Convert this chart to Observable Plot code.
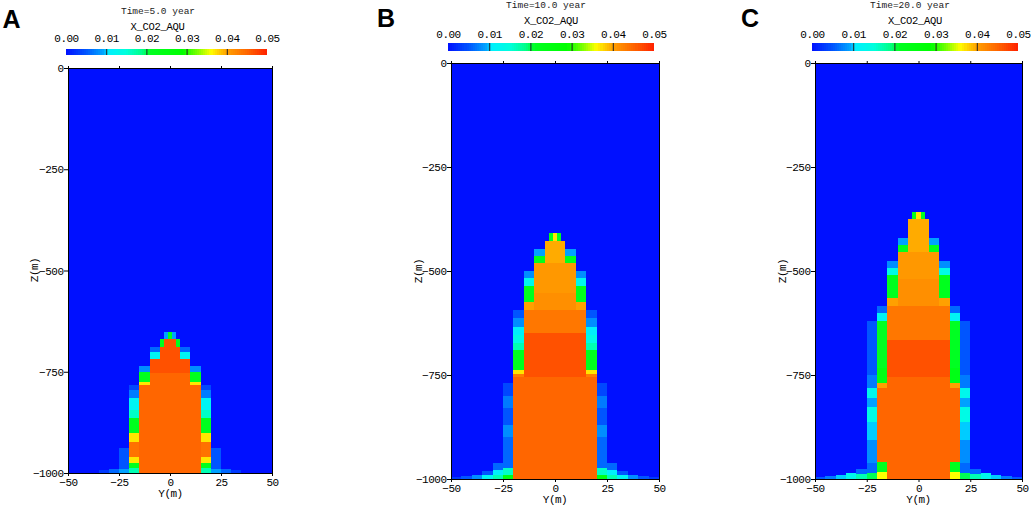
<!DOCTYPE html>
<html><head><meta charset="utf-8">
<script src="https://cdn.jsdelivr.net/npm/d3@7"></script>
<script src="https://cdn.jsdelivr.net/npm/@observablehq/plot@0.6"></script>
<style>
body{margin:0;background:#fff;}
#root{position:relative;width:1031px;height:506px;overflow:hidden;background:#fff;}
.lbl{position:absolute;transform:translate(-50%,-50%);line-height:1;white-space:nowrap;color:#000;font-family:"Liberation Mono",monospace;}
svg{position:absolute;}
</style></head><body><div id="root"></div>
<script>
// ---------- data ----------
const panelLetters = ["A", "B", "C"];
const timeLabels = ["Time=5.0 year", "Time=10.0 year", "Time=20.0 year"];
const varName = "X_CO2_AQU";
const xTicks = [-50, -25, 0, 25, 50];
const yTicks = [0, -250, -500, -750, -1000];
const barTicks = [0, 0.01, 0.02, 0.03, 0.04, 0.05];
const colorStops = [0, 0.005, 0.0095, 0.0105, 0.015, 0.019, 0.021, 0.029, 0.033, 0.036, 0.038, 0.04, 0.045, 0.05];
const colorHex = ["#0010ff", "#0055ff", "#00aaff", "#00eeff", "#00ffdd", "#00ff88", "#00ff22", "#00ff00", "#88ff00", "#ffff00", "#ffcc00", "#ffa000", "#ff6600", "#ff2000"];

// cells of the right half: [Y inner, Y outer, Z top, Z bottom, X_CO2_AQU] (mirrored about Y=0)
const cellsA = [
  [0, 15, -753, -1000, 0.045],
  [0, 10, -690, -753, 0.0465],
  [0, 3, -670, -690, 0.0465],
  [3, 5, -670, -690, 0.022],
  [0, 1, -651, -670, 0.022],
  [1, 3, -651, -670, 0.009],
  [5, 10, -690, -700, 0.006],
  [5, 10, -700, -719, 0.012],
  [10, 15, -737, -750, 0.008],
  [10, 15, -750, -775, 0.022],
  [10, 15, -775, -783, 0.037],
  [15, 20, -783, -795, 0.004],
  [15, 20, -795, -815, 0.007],
  [15, 20, -815, -845, 0.012],
  [15, 20, -845, -864, 0.016],
  [15, 20, -864, -901, 0.022],
  [15, 20, -901, -923, 0.037],
  [15, 20, -923, -960, 0.044],
  [15, 20, -960, -975, 0.037],
  [15, 20, -975, -988, 0.022],
  [15, 20, -988, -1000, 0.017],
  [20, 25, -938, -990, 0.005],
  [20, 25, -990, -1000, 0.009],
  [25, 30, -990, -1000, 0.006],
  [30, 35, -993, -1000, 0.003]
];
const cellsB = [
  [0, 20, -754, -1000, 0.045],
  [0, 15, -594, -649, 0.0435],
  [0, 15, -649, -754, 0.0465],
  [0, 10, -481, -553, 0.0407],
  [0, 10, -553, -594, 0.0415],
  [10, 15, -574, -594, 0.040],
  [0, 5, -427, -481, 0.0395],
  [0, 1, -409, -427, 0.037],
  [1, 3, -409, -427, 0.022],
  [5, 10, -448, -464, 0.009],
  [5, 10, -464, -481, 0.022],
  [10, 15, -501, -517, 0.008],
  [10, 15, -517, -537, 0.013],
  [10, 15, -537, -574, 0.022],
  [15, 20, -594, -614, 0.005],
  [15, 20, -614, -634, 0.008],
  [15, 20, -634, -654, 0.011],
  [15, 20, -654, -674, 0.014],
  [15, 20, -674, -690, 0.017],
  [15, 20, -690, -738, 0.022],
  [15, 20, -738, -747, 0.037],
  [15, 20, -747, -754, 0.043],
  [20, 25, -770, -800, 0.004],
  [20, 25, -800, -830, 0.007],
  [20, 25, -830, -870, 0.005],
  [20, 25, -870, -900, 0.008],
  [20, 25, -900, -974, 0.006],
  [20, 25, -974, -990, 0.016],
  [20, 25, -990, -1000, 0.024],
  [25, 30, -962, -978, 0.006],
  [25, 30, -978, -990, 0.011],
  [25, 30, -990, -1000, 0.017],
  [30, 35, -980, -990, 0.005],
  [30, 35, -990, -1000, 0.012],
  [35, 40, -990, -1000, 0.008],
  [40, 45, -992, -1000, 0.005],
  [45, 50, -994, -1000, 0.003]
];
const cellsC = [
  [0, 20, -781, -1000, 0.045],
  [0, 15, -585, -666, 0.0435],
  [0, 15, -666, -754, 0.0465],
  [0, 15, -754, -781, 0.045],
  [0, 10, -455, -520, 0.0407],
  [0, 10, -520, -585, 0.0415],
  [10, 15, -565, -585, 0.040],
  [0, 5, -375, -455, 0.0395],
  [0, 1, -358, -375, 0.037],
  [1, 3, -358, -375, 0.022],
  [5, 10, -420, -437, 0.009],
  [5, 10, -437, -455, 0.022],
  [10, 15, -475, -492, 0.008],
  [10, 15, -492, -510, 0.014],
  [10, 15, -510, -565, 0.022],
  [15, 20, -585, -600, 0.006],
  [15, 20, -600, -620, 0.012],
  [15, 20, -620, -734, 0.021],
  [15, 20, -734, -770, 0.024],
  [15, 20, -770, -781, 0.040],
  [15, 20, -958, -982, 0.022],
  [15, 20, -982, -1000, 0.036],
  [20, 25, -620, -750, 0.005],
  [20, 25, -750, -781, 0.007],
  [20, 25, -781, -806, 0.013],
  [20, 25, -806, -826, 0.009],
  [20, 25, -826, -862, 0.014],
  [20, 25, -862, -906, 0.010],
  [20, 25, -906, -962, 0.008],
  [20, 25, -962, -985, 0.006],
  [20, 25, -985, -1000, 0.020],
  [25, 30, -975, -988, 0.006],
  [25, 30, -988, -1000, 0.017],
  [30, 35, -985, -1000, 0.013],
  [35, 40, -990, -1000, 0.010],
  [40, 45, -992, -1000, 0.007],
  [45, 50, -994, -1000, 0.005]
];
const panelCells = [cellsA, cellsB, cellsC];

// ---------- layout (pixels) ----------
const layout = [
  {plot: [68, 272, 68, 473], bar: [66, 267, 49, 55], labY: 38, letter: [11.5, 19], title: [158, 11.5], vname: [157.5, 26.5], zlab: [35, 270], ylab: [170.5, 494]},
  {plot: [451, 659, 63, 479], bar: [448, 654, 43, 51], labY: 33.5, letter: [386, 18], title: [546, 6], vname: [551, 21], zlab: [419, 271], ylab: [555, 500]},
  {plot: [815, 1022, 63, 479], bar: [812, 1018, 43, 51], labY: 33.5, letter: [750, 18], title: [910, 6], vname: [915, 21], zlab: [783, 271], ylab: [918.5, 500]}
];

const root = document.getElementById("root");
const colorOpts = {type: "linear", domain: colorStops, range: colorHex, interpolate: "rgb", clamp: true};
const baseStyle = {fontFamily: "'Liberation Mono', monospace", fontSize: "11px", letterSpacing: "-0.5px", color: "#000", background: "transparent", overflow: "visible"};
const numFmt = d => (d < 0 ? "\u2212" + Math.abs(d) : String(d));

function mirror(cells) {
  const out = [];
  for (const [a, b, zt, zb, v] of cells) {
    if (a === 0) out.push({x1: -b, x2: b, y1: zb, y2: zt, v});
    else {
      out.push({x1: a, x2: b, y1: zb, y2: zt, v});
      out.push({x1: -b, x2: -a, y1: zb, y2: zt, v});
    }
  }
  return out;
}
function label(text, cx, cy, css) {
  const d = document.createElement("div");
  d.className = "lbl";
  d.textContent = text;
  d.style.left = cx + "px";
  d.style.top = cy + "px";
  Object.assign(d.style, css || {});
  root.appendChild(d);
  return d;
}

const barData = d3.range(0, 100).map(i => ({x1: i * 0.0005, x2: (i + 1) * 0.0005, v: (i + 0.5) * 0.0005}));

layout.forEach((L, k) => {
  // main heatmap
  const [px0, px1, py0, py1] = L.plot;
  const sx = px0 - 70, sw = Math.min(1031, px1 + 14) - sx;
  const main = Plot.plot({
    width: sw, height: 506,
    marginLeft: px0 - sx, marginRight: sx + sw - px1, marginTop: py0, marginBottom: 506 - py1,
    x: {domain: [-50, 50]},
    y: {domain: [-1000, 0]},
    color: colorOpts,
    style: baseStyle,
    marks: [
      Plot.rect([{x1: -50, x2: 50, y1: -1000, y2: 0, v: 0}], {x1: "x1", x2: "x2", y1: "y1", y2: "y2", fill: "v", shapeRendering: "crispEdges"}),
      Plot.rect(mirror(panelCells[k]), {x1: "x1", x2: "x2", y1: "y1", y2: "y2", fill: "v", shapeRendering: "crispEdges"}),
      Plot.frame({stroke: "#000"}),
      Plot.axisX({anchor: "bottom", ticks: xTicks, tickSize: 3, tickPadding: 2, tickFormat: numFmt, label: null}),
      Plot.axisX({anchor: "top", ticks: xTicks, tickSize: 3, tickFormat: () => "", label: null}),
      Plot.axisY({anchor: "left", ticks: yTicks, tickSize: 4, tickPadding: 1, tickFormat: numFmt, label: null})
    ]
  });
  main.style.left = sx + "px";
  main.style.top = "0px";
  root.appendChild(main);

  // colour bar
  const [bx0, bx1, by0, by1] = L.bar;
  const bl = bx0 - 30, bw = Math.min(1031, bx1 + 14) - bl;
  const mt = 24;
  const bar = Plot.plot({
    width: bw, height: mt + (by1 - by0),
    marginLeft: bx0 - bl, marginRight: bl + bw - bx1, marginTop: mt, marginBottom: 0,
    x: {domain: [0, 0.05]},
    y: {domain: [0, 1], axis: null},
    color: colorOpts,
    style: baseStyle,
    marks: [
      Plot.rect(barData, {x1: "x1", x2: "x2", y1: 0, y2: 1, fill: "v", shapeRendering: "crispEdges"}),
      Plot.ruleX(barTicks.slice(1, -1), {y1: 0, y2: 1, stroke: "#222", strokeWidth: 1}),
      Plot.axisX({anchor: "top", ticks: barTicks, tickSize: 0, tickPadding: (by0 - L.labY) - 3.8, tickFormat: d => d.toFixed(2), label: null})
    ]
  });
  bar.style.left = bl + "px";
  bar.style.top = (by0 - mt) + "px";
  root.appendChild(bar);

  // texts
  label(panelLetters[k], L.letter[0], L.letter[1], {fontFamily: "'Liberation Sans', Arial, sans-serif", fontWeight: "bold", fontSize: "25px"});
  label(timeLabels[k], L.title[0], L.title[1], {fontSize: "9.5px", color: "#222"});
  label(varName, L.vname[0], L.vname[1], {fontSize: "10.5px", letterSpacing: "-0.3px"});
  label("Z(m)", L.zlab[0], L.zlab[1], {fontSize: "11px", letterSpacing: "-0.5px", transform: "translate(-50%,-50%) rotate(-90deg)"});
  label("Y(m)", L.ylab[0], L.ylab[1], {fontSize: "11px", letterSpacing: "-0.5px"});
});
</script></body></html>
